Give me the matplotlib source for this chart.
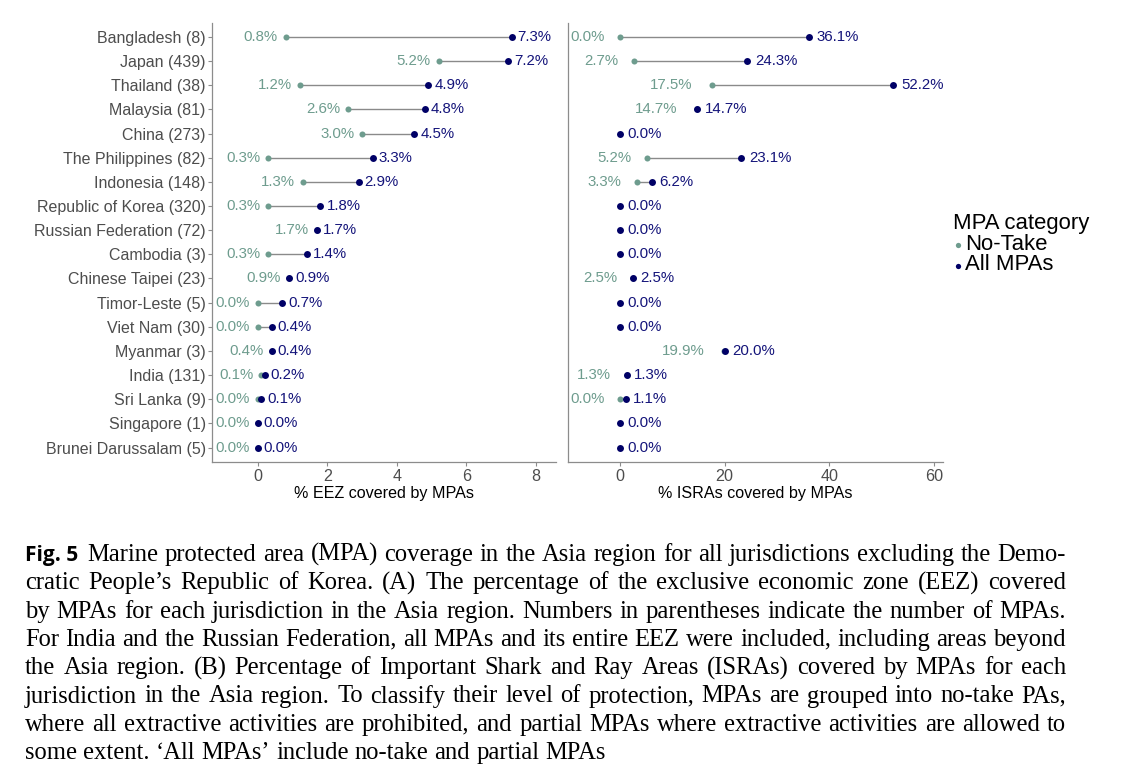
import numpy as np
import matplotlib
matplotlib.use('Agg')
import matplotlib.pyplot as plt
from matplotlib.lines import Line2D

plt.rcParams['font.family'] = ['Liberation Sans', 'DejaVu Sans']

# ---------------- data ----------------
countries = ["Bangladesh (8)", "Japan (439)", "Thailand (38)", "Malaysia (81)",
             "China (273)", "The Philippines (82)", "Indonesia (148)",
             "Republic of Korea (320)", "Russian Federation (72)", "Cambodia (3)",
             "Chinese Taipei (23)", "Timor-Leste (5)", "Viet Nam (30)",
             "Myanmar (3)", "India (131)", "Sri Lanka (9)", "Singapore (1)",
             "Brunei Darussalam (5)"]
eez_notake = [0.8, 5.2, 1.2, 2.6, 3.0, 0.3, 1.3, 0.3, 1.7, 0.3,
              0.9, 0.0, 0.0, 0.4, 0.1, 0.0, 0.0, 0.0]
eez_all = [7.3, 7.2, 4.9, 4.8, 4.5, 3.3, 2.9, 1.8, 1.7, 1.4,
           0.9, 0.7, 0.4, 0.4, 0.2, 0.1, 0.0, 0.0]
nan = float('nan')
isra_notake = [0.0, 2.7, 17.5, 14.7, nan, 5.2, 3.3, nan, nan, nan,
               2.5, nan, nan, 19.9, 1.3, 0.0, nan, nan]
isra_all = [36.1, 24.3, 52.2, 14.7, 0.0, 23.1, 6.2, 0.0, 0.0, 0.0,
            2.5, 0.0, 0.0, 20.0, 1.3, 1.1, 0.0, 0.0]
eez_ticks = [0, 2, 4, 6, 8]
isra_ticks = [0, 20, 40, 60]
legend_title = "MPA category"
legend_labels = ["No-Take", "All MPAs"]
xlabels = ["% EEZ covered by MPAs", "% ISRAs covered by MPAs"]

caption_head = "Fig. 5"
caption_lines = [
    "Marine protected area (MPA) coverage in the Asia region for all jurisdictions excluding the Demo-",
    "cratic People\u2019s Republic of Korea. (A) The percentage of the exclusive economic zone (EEZ) covered",
    "by MPAs for each jurisdiction in the Asia region. Numbers in parentheses indicate the number of MPAs.",
    "For India and the Russian Federation, all MPAs and its entire EEZ were included, including areas beyond",
    "the Asia region. (B) Percentage of Important Shark and Ray Areas (ISRAs) covered by MPAs for each",
    "jurisdiction in the Asia region. To classify their level of protection, MPAs are grouped into no-take PAs,",
    "where all extractive activities are prohibited, and partial MPAs where extractive activities are allowed to",
    "some extent. \u2018All MPAs\u2019 include no-take and partial MPAs",
]

# ---------------- style ----------------
GREEN = '#6E9C8E'
NAVY = '#000066'
NAVY_TXT = '#14147a'
SEG = '#8a8a8a'
SPINE = '#8c8c8c'
TICKLAB = '#4d4d4d'
FS = 10.8      # value labels
YFS = 11.5     # y tick labels
XFS = 11.6     # x tick labels / axis titles

W, H = 1140, 784
fig = plt.figure(figsize=(W / 100, H / 100), dpi=100)


def rect(x0, y0, x1, y1):
    return [x0 / W, 1 - y1 / H, (x1 - x0) / W, (y1 - y0) / H]


axL = fig.add_axes(rect(212, 22.5, 556, 462))
axR = fig.add_axes(rect(568, 22.5, 943, 462))

n = len(countries)
ys = np.arange(n, 0, -1)


def px2pt(p):
    return p * 0.72


def draw(ax, notake, allm, xlim, ticks, xlabel, green_gap, navy_gap, show_y):
    for y, a, b in zip(ys, notake, allm):
        if not np.isnan(a):
            ax.plot([a, b], [y, y], color=SEG, lw=1.0, zorder=1, solid_capstyle='butt')
    nt = np.array(notake, dtype=float)
    ok = ~np.isnan(nt)
    ax.scatter(nt[ok], ys[ok], s=19, color=GREEN, zorder=2, linewidths=0)
    ax.scatter(allm, ys, s=25, color=NAVY, zorder=3, linewidths=0)
    for y, a, b in zip(ys, notake, allm):
        if not np.isnan(a):
            lab = f"{a:.1f}%"
            ax.annotate(lab, (a, y), xytext=(-px2pt(green_gap(lab)), 0),
                        textcoords='offset points', ha='right', va='center',
                        color=GREEN, fontsize=FS)
        lab = f"{b:.1f}%"
        ax.annotate(lab, (b, y), xytext=(px2pt(navy_gap(lab)), 0),
                    textcoords='offset points', ha='left', va='center',
                    color=NAVY_TXT, fontsize=FS)
    ax.set_xlim(*xlim)
    ax.set_ylim(0.4, n + 0.6)
    ax.set_xticks(ticks)
    ax.set_xticklabels([str(t) for t in ticks])
    ax.set_xlabel(xlabel, fontsize=XFS, color='black', labelpad=1)
    for s in ['top', 'right']:
        ax.spines[s].set_visible(False)
    for s in ['left', 'bottom']:
        ax.spines[s].set_color(SPINE)
        ax.spines[s].set_linewidth(0.9)
    ax.tick_params(axis='x', colors=SPINE, labelcolor=TICKLAB, labelsize=XFS,
                   length=3, width=0.8, pad=2.2)
    if show_y:
        ax.set_yticks(ys)
        ax.set_yticklabels(countries)
        ax.tick_params(axis='y', colors=SPINE, labelcolor=TICKLAB, labelsize=YFS,
                       length=3, width=0.8, pad=1.5)
    else:
        ax.set_yticks([])
    ax.patch.set_alpha(0)


draw(axL, eez_notake, eez_all, (-1.32, 8.58), eez_ticks, xlabels[0],
     lambda s: 8, lambda s: 6, True)
draw(axR, isra_notake, isra_all, (-9.94, 61.72), isra_ticks, xlabels[1],
     lambda s: 15.5 if len(s) <= 4 else 19.5,
     lambda s: 7 if len(s) <= 4 else 8, False)

# ---------------- legend ----------------
LFS = 15.9
fig.text(953 / W, 1 - 223 / H, legend_title, fontsize=LFS, ha='left', va='center', color='black')
for i, (lab, col) in enumerate(zip(legend_labels, [GREEN, NAVY])):
    yy = 244 + 20.5 * i
    fig.text(965 / W, 1 - yy / H, lab, fontsize=LFS, ha='left', va='center', color='black')
    fig.add_artist(Line2D([958 / W], [1 - (yy + 1) / H], marker='o', markersize=3.8,
                          color=col, markeredgewidth=0, transform=fig.transFigure))

# ---------------- caption (justified) ----------------
fig.canvas.draw()
r = fig.canvas.get_renderer()
CFS = 17.7
SERIF = ['Liberation Serif', 'DejaVu Serif']


def width(s, **kw):
    t = fig.text(0, 0, s, **kw)
    w = t.get_window_extent(r).width
    t.remove()
    return w


LEFT, RIGHT = 25, 1066
base0, lstep = 561, 28.3
head_kw = dict(fontsize=15.0, family=['Open Sans', 'DejaVu Sans'], fontweight='bold')
fig.text(LEFT / W, 1 - base0 / H, caption_head, va='baseline', ha='left', color='black', **head_kw)
head_end = 87
space_nat = width("a b", fontsize=CFS, family=SERIF) - width("ab", fontsize=CFS, family=SERIF)
for i, line in enumerate(caption_lines):
    x0 = head_end if i == 0 else LEFT
    base = base0 + lstep * i
    words = line.split(' ')
    ws = [width(w, fontsize=CFS, family=SERIF) for w in words]
    if i < len(caption_lines) - 1:
        gap = (RIGHT - x0 - sum(ws)) / (len(words) - 1)
    else:
        gap = space_nat
    x = x0
    for w, wd in zip(words, ws):
        fig.text(x / W, 1 - base / H, w, fontsize=CFS, family=SERIF,
                 va='baseline', ha='left', color='black')
        x += wd + gap

fig.savefig('out.png', dpi=100)
